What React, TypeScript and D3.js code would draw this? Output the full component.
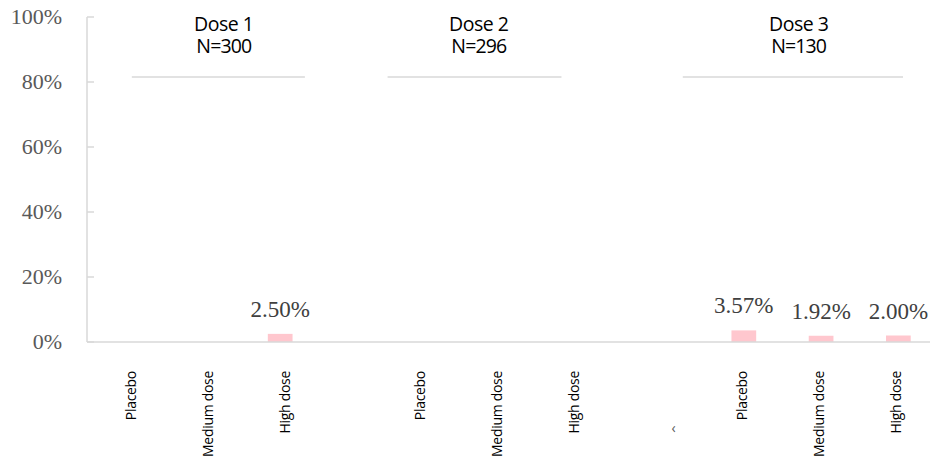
import React from 'react';
import * as d3 from 'd3';

// data
const doseGroups = ['Dose 1', 'Dose 2', 'Dose 3'];
const groupN = [300, 296, 130];
const arms = ['Placebo', 'Medium dose', 'High dose'];
const dose1Rates = [0, 0, 0.025];
const dose2Rates = [0, 0, 0];
const dose3Rates = [0.0357, 0.0192, 0.02];
const yTicks = [0, 0.2, 0.4, 0.6, 0.8, 1];
const strayMark = '‹';

const rates = [dose1Rates, dose2Rates, dose3Rates];

const WIDTH = 930;
const HEIGHT = 459;
const margin = { top: 17, left: 87, bottom: 117, rightEdge: 937 };

// header placement in slot units (text boxes drawn over the chart)
const headerLayout = [
  { lineFrom: 0.58, lineTo: 2.82, text: 1.77 },
  { lineFrom: 3.89, lineTo: 6.14, text: 5.07 },
  { lineFrom: 7.71, lineTo: 10.56, text: 9.21 }
];
// the arm labels are text boxes, slightly off their ticks
const labelNudge = [5, -15, -2];

const sans = "'Open Sans', 'Noto Sans', sans-serif";
const serif = "'Liberation Serif', 'DejaVu Serif', serif";
const gridGray = '#D9D9D9';

export default function App() {
  // slot keys: three arms per group, one empty slot between groups
  const slots: string[] = [];
  doseGroups.forEach((g, gi) => {
    arms.forEach(a => slots.push(`${g}|${a}`));
    if (gi < doseGroups.length - 1) slots.push(`gap${gi}`);
  });

  const bars = doseGroups.flatMap((g, gi) =>
    arms.map((a, ai) => ({ group: gi, arm: a, key: `${g}|${a}`, value: rates[gi][ai] }))
  );

  const x = d3
    .scaleBand()
    .domain(slots)
    .range([margin.left, margin.rightEdge])
    .paddingInner(0.68)
    .paddingOuter(0.34);

  const slotUnit = d3
    .scaleLinear()
    .domain([0, slots.length])
    .range([margin.left, margin.rightEdge]);

  const y = d3
    .scaleLinear()
    .domain([0, 1])
    .range([HEIGHT - margin.bottom, margin.top]);

  const xAxisY = y(0);
  const center = (k: string) => (x(k) || 0) + x.bandwidth() / 2;

  return (
    <div style={{ position: 'absolute', left: 0, top: 0 }}>
      <svg width={WIDTH} height={HEIGHT} viewBox={`0 0 ${WIDTH} ${HEIGHT}`} style={{ display: 'block', background: '#fff' }}>
        {/* y轴 */}
        <g className="y-axis">
          <line x1={margin.left} x2={margin.left} y1={y(1)} y2={xAxisY} stroke={gridGray} strokeWidth={1.5} />
          {yTicks.map(t => (
            <g key={t}>
              <line x1={margin.left} x2={margin.left + 7} y1={y(t)} y2={y(t)} stroke={gridGray} strokeWidth={1.5} />
              <text
                x={62}
                y={y(t)}
                dy="0.33em"
                textAnchor="end"
                fontFamily={serif}
                fontSize={22}
                fill="#595959"
              >
                {d3.format('.0%')(t)}
              </text>
            </g>
          ))}
        </g>

        {/* 柱子 */}
        {bars.map(b => (
          <rect
            key={b.key}
            x={x(b.key)}
            y={y(b.value)}
            width={x.bandwidth()}
            height={xAxisY - y(b.value)}
            fill="#FFC7CE"
          />
        ))}

        {/* x轴 */}
        <line x1={margin.left} x2={WIDTH} y1={xAxisY} y2={xAxisY} stroke={gridGray} strokeWidth={1.5} />

        {/* 数值标签 */}
        {bars
          .filter(b => b.value > 0)
          .map(b => (
            <text
              key={b.key}
              x={center(b.key)}
              y={y(b.value) - 17}
              textAnchor="middle"
              fontFamily={serif}
              fontSize={23}
              fill="#404040"
            >
              {d3.format('.2%')(b.value)}
            </text>
          ))}

        {/* 分类标签 */}
        {bars.map(b => (
          <text
            key={b.key}
            transform={`translate(${center(b.key) + labelNudge[b.group]},371) rotate(-90)`}
            dy="0.36em"
            textAnchor="end"
            fontFamily={sans}
            fontSize={14}
            letterSpacing={-0.3}
            fill="#000"
          >
            {b.arm}
          </text>
        ))}
        <text x={center('gap1') + 7} y={433} textAnchor="middle" fontFamily={sans} fontSize={14} fill="#595959">
          {strayMark}
        </text>

        {/* 组标题 */}
        {doseGroups.map((g, gi) => {
          const h = headerLayout[gi];
          const cx = slotUnit(h.text);
          return (
            <g key={g}>
              <text textAnchor="middle" fontFamily={sans} fontSize={19.5} fill="#000">
                <tspan x={cx} y={31} letterSpacing={-0.5}>
                  {g}
                </tspan>
                <tspan x={cx} y={52.5} letterSpacing={-0.9}>
                  N={groupN[gi]}
                </tspan>
              </text>
              <line x1={slotUnit(h.lineFrom)} x2={slotUnit(h.lineTo)} y1={77} y2={77} stroke={gridGray} strokeWidth={1.5} />
            </g>
          );
        })}
      </svg>
    </div>
  );
}
